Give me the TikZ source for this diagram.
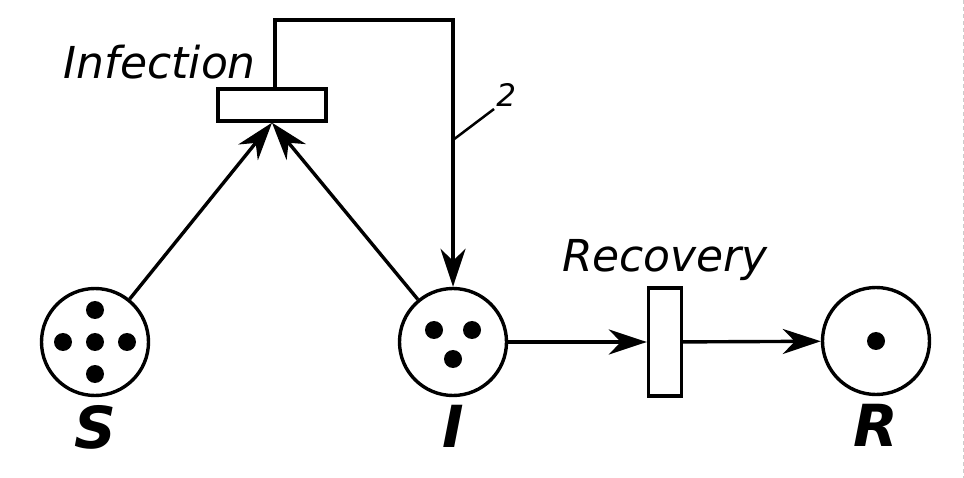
\documentclass[tikz,border=0pt]{standalone}
\usepackage{fontspec}
\setmainfont{DejaVu Sans}
\usetikzlibrary{arrows.meta, positioning}

\begin{document}
\begin{tikzpicture}[x=1pt, y=-1pt,
    place/.style={circle, draw, line width=3.4pt, minimum size=107pt, inner sep=0pt},
    trans/.style={rectangle, draw, line width=3.4pt, inner sep=0pt},
    lbl/.style={font=\fontsize{44}{52}\selectfont\itshape, inner sep=0pt},
    placelbl/.style={font=\fontsize{58}{66}\selectfont\bfseries\itshape, inner sep=0pt},
    arc/.style={-{Stealth[length=38pt, width=25pt, inset=12pt]}, line width=3.4pt}
]
\useasboundingbox (0,0) rectangle (964,478);

\node[place] (S) at (95,342) {};
\node[place] (I) at (453,342) {};
\node[place] (R) at (876,341) {};
\node[trans, minimum width=108pt, minimum height=32pt] (infection) at (272,105) {};
\node[trans, minimum width=33pt, minimum height=108pt] (recovery) at (665,342) {};

% tokens
\foreach \dx/\dy in {0/0, 0/-32, 0/32, -32/0, 32/0}
    \fill ([shift={(\dx,\dy)}]S.center) circle (9);
\foreach \dx/\dy in {-19/-12, 19/-12, 0/17}
    \fill ([shift={(\dx,\dy)}]I.center) circle (9);
\fill (R.center) circle (9);

\node[placelbl, below=8pt of S] (Slbl) {S};
\node[placelbl, below=8pt of I] (Ilbl) {I};
\node[placelbl, below=8pt of R] (Rlbl) {R};
\node[lbl, anchor=base east] (infectionlbl) at (256,79) {Infection};
\node[lbl, above=5pt of recovery] (recoverylbl) {Recovery};

\draw[arc] (S) -- (infection.south);
\draw[arc] (I) -- (infection.south);
\coordinate (loop) at (453,20);
\draw[arc] ([xshift=3pt]infection.north) |- (loop) -- (I.north);
\coordinate (w) at (453,140);
\draw[line width=2.5pt] (w) -- ++(41,-31) node[anchor=south west, inner sep=1pt, font=\fontsize{31}{37}\selectfont\itshape] (weight) {2};
\draw[arc] (I) -- (recovery);
\draw[arc] (recovery) -- (R);

\draw[gray!40, line width=1pt, dash pattern=on 4pt off 3pt] (963,0) -- (963,478);
\end{tikzpicture}
\end{document}
